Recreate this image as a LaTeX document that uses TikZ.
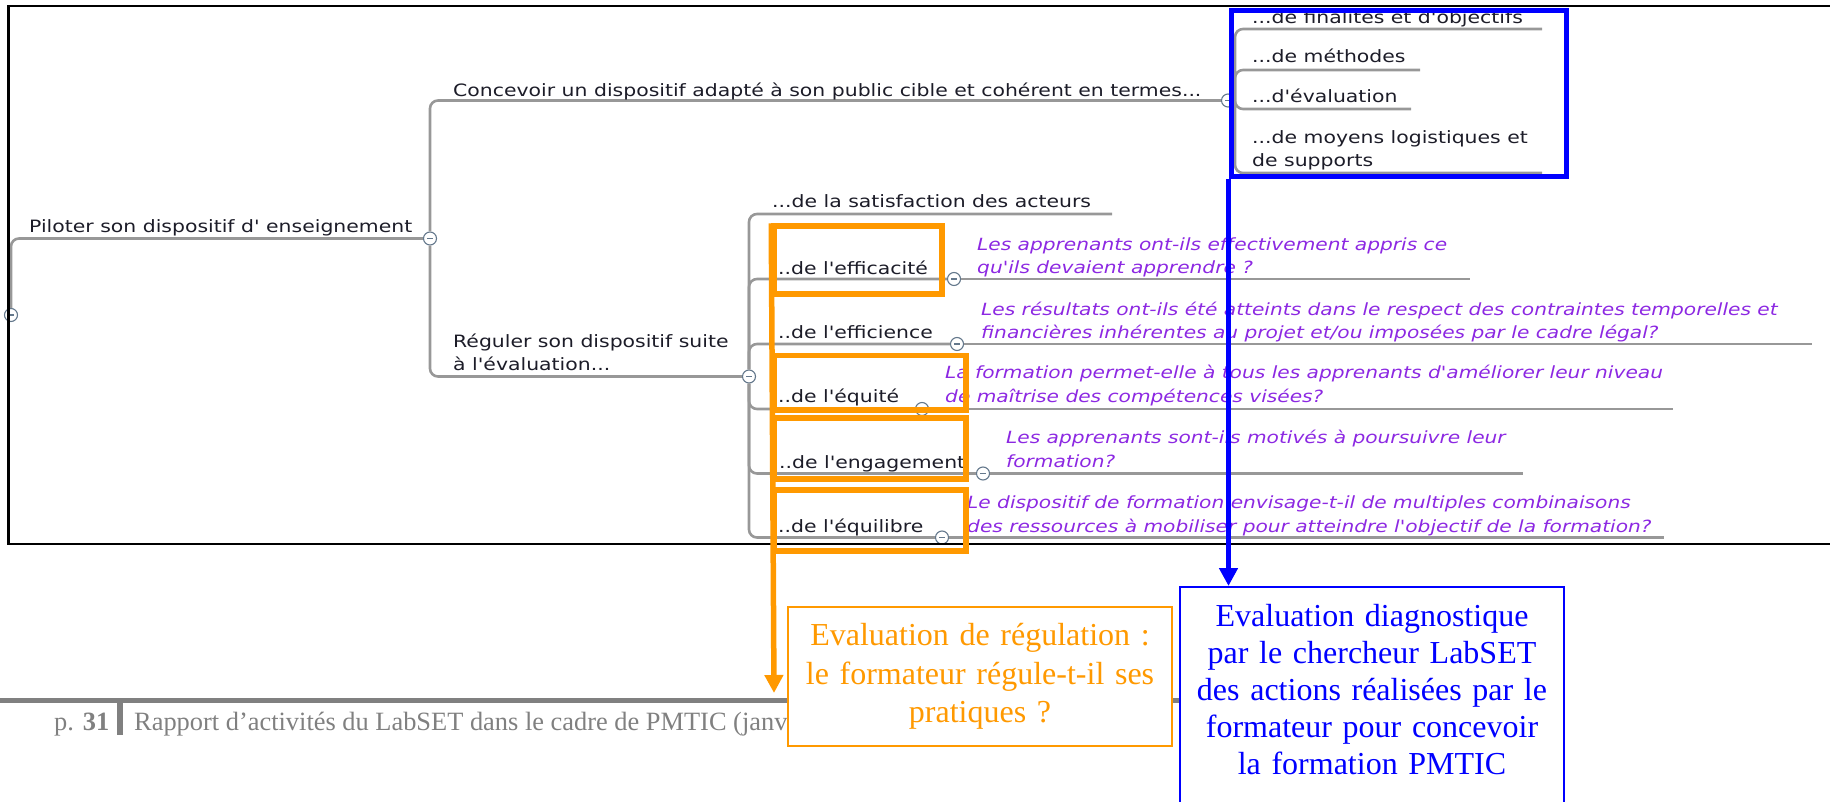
\documentclass[tikz,border=0pt]{standalone}
\usepackage{fontspec}
\setmainfont{Liberation Serif}
\newfontfamily\mapfont{DejaVu Sans}[FakeStretch=1.2, Ligatures=TeXOff]
\usetikzlibrary{arrows,arrows.meta,positioning}

\definecolor{mapgray}{RGB}{152,152,152}
\definecolor{mapink}{RGB}{28,28,40}
\definecolor{togglegray}{RGB}{100,120,140}
\definecolor{askviolet}{RGB}{140,40,226}
\definecolor{hlorange}{RGB}{255,153,0}
\definecolor{footgray}{RGB}{128,128,128}

\tikzset{
    %Define standard arrow tip
    >={Triangle[width=18pt,length=18pt]},
    topic/.style={
      anchor=base west,
      inner sep=0pt,
      text=mapink,
      align=left,
      font=\mapfont\fontsize{17}{23.5}\selectfont},
    ask/.style={
      topic,
      text=askviolet,
      font=\mapfont\itshape\fontsize{16.8}{23.5}\selectfont},
    toggle/.style={
      circle,
      draw=togglegray, fill=white, line width=1.1pt,
      minimum size=13pt, inner sep=0pt,
      path picture={
        \draw[togglegray, line width=1.4pt]
          ([xshift=-3pt]path picture bounding box.center) --
          ([xshift=3pt]path picture bounding box.center);}},
    branch/.style={
      draw=mapgray, line width=2.6pt, rounded corners=8pt},
    elbow/.style={
      branch,
      to path={-| (\tikztotarget)}},
    hilite/.style={
      rectangle,
      draw=hlorange, line width=5.5pt,
      inner sep=0pt},
    note/.style={
      rectangle,
      fill=white, line width=1.6pt,
      text width=370pt, inner xsep=7pt,
      align=center,
      font=\fontsize{32}{37}\selectfont},
    foot/.style={
      anchor=base west,
      inner sep=0pt,
      text=footgray,
      font=\fontsize{26.4}{32}\selectfont},
}

\begin{document}
\begin{tikzpicture}[x=1pt, y=-1pt]
    \clip (0,0) rectangle (1830,802);

    % ends of the leaf branches
    \coordinate (fin-end) at (1542,29);
    \coordinate (meth-end) at (1420,70);
    \coordinate (evalu-end) at (1411,109);
    \coordinate (moy-end) at (1542,173);
    \coordinate (sat-end) at (1112,214);
    \coordinate (effica-end) at (1470,279);
    \coordinate (effici-end) at (1812,344);
    \coordinate (equite-end) at (1673,409);
    \coordinate (engag-end) at (1523,473.5);
    \coordinate (equil-end) at (1664,537.5);

    % mind map
    \node (c0) [toggle] at (11,315) {};
    \node (c1) [toggle] at (430,238.5) {}
          edge [elbow] (c0);
    \node (c2) [toggle] at (1228,100.5) {}
          edge [elbow] (c1);
    \node (c3) [toggle] at (749,376.5) {}
          edge [elbow] (c1);
    \node (c4) [toggle] at (954,279) {}
          edge [elbow] (c3)
          edge [branch] (effica-end);
    \node (c5) [toggle] at (957,344) {}
          edge [elbow] (c3)
          edge [branch] (effici-end);
    \node (c6) [toggle] at (922,409) {}
          edge [elbow] (c3)
          edge [branch] (equite-end);
    \node (c7) [toggle] at (983,473.5) {}
          edge [elbow] (c3)
          edge [branch] (engag-end);
    \node (c8) [toggle] at (942,537.5) {}
          edge [elbow] (c3)
          edge [branch] (equil-end);
    \draw [branch] (c2.east) |- (fin-end);
    \draw [branch] (c2.east) |- (meth-end);
    \draw [branch] (c2.east) |- (evalu-end);
    \draw [branch] (c2.east) |- (moy-end);
    \draw [branch] (c3) |- (sat-end);

    \node (pil) [topic] at (29,233) {Piloter son dispositif d' enseignement};
    \node (conc) [topic] at (453,97)
          {Concevoir un dispositif adapté à son public cible et cohérent en termes...};
    \node (regu) [topic] at (453,370.5) {Réguler son dispositif suite\\à l'évaluation...};
    \node (fin) [topic] at (1252,24) {...de finalités et d'objectifs};
    \node (meth) [topic] at (1252,63) {...de méthodes};
    \node (evalu) [topic] at (1252,103) {...d'évaluation};
    \node (moy) [topic] at (1252,167) {...de moyens logistiques et\\de supports};
    \node (sat) [topic] at (772,208) {...de la satisfaction des acteurs};
    \node (effica) [topic] at (778,274) {..de l'efficacité};
    \node (effici) [topic] at (778,338) {..de l'efficience};
    \node (equite) [topic] at (778,402) {..de l'équité};
    \node (engag) [topic] at (779,468) {..de l'engagement};
    \node (equil) [topic] at (778,532) {..de l'équilibre};

    \node (qeffica) [ask] at (977,273.5)
          {Les apprenants ont-ils effectivement appris ce\\qu'ils devaient apprendre ?};
    \node (qeffici) [ask] at (981,338.5)
          {Les résultats ont-ils été atteints dans le respect des contraintes temporelles et\\financières inhérentes au projet et/ou imposées par le cadre légal?};
    \node (qequite) [ask] at (945,402)
          {La formation permet-elle à tous les apprenants d'améliorer leur niveau\\de maîtrise des compétences visées?};
    \node (qengag) [ask] at (1006,467)
          {Les apprenants sont-ils motivés à poursuivre leur\\formation?};
    \node (qequil) [ask] at (967,532)
          {Le dispositif de formation envisage-t-il de multiples combinaisons\\des ressources à mobiliser pour atteindre l'objectif de la formation?};

    % screenshot frame
    \draw [line width=2.6pt] (8.5,6) rectangle (1850,544);

    % highlights
    \node (hlconc) [hilite, draw=blue, line width=5pt,
          minimum width=335pt, minimum height=166.5pt] at (1398.5,93.75) {};
    \node (hleffica) [hilite, minimum width=168pt, minimum height=68pt] at (858,260) {};
    \node (hlequite) [hilite, minimum width=192pt, minimum height=54.5pt] at (870,382.75) {};
    \node (hlengag) [hilite, minimum width=192pt, minimum height=61pt] at (870,448.5) {};
    \node (hlequil) [hilite, minimum width=192pt, minimum height=61pt] at (870,520.5) {};

    % page footer
    \draw [footgray, line width=5pt] (0,700) -- (1180,700);
    \fill [footgray] (117,703) rectangle (123,735);
    \node (pagenum) [foot] at (54,730) {p. \textbf{31}};
    \node (runhead) [foot] at (134,730)
          {Rapport d’activités du LabSET dans le cadre de PMTIC (janv};

    % comment boxes
    \coordinate (regtip) at (774,693);
    \node (regul) [note, draw=hlorange, text=hlorange, minimum height=139pt,
          font=\fontsize{32}{38.5}\selectfont] at (980,676.5)
          {Evaluation de régulation :\\le formateur régule-t-il ses\\pratiques ?};
    \node (diag) [note, draw=blue, text=blue, anchor=north,
          inner ysep=17pt, text depth=230pt] at (1372,586)
          {Evaluation diagnostique\\par le chercheur LabSET\\des actions réalisées par le\\formateur pour concevoir\\la formation PMTIC};

    \draw [hlorange, line width=5.5pt, ->] (hleffica.north west) -- (regtip);
    \draw [blue, line width=5pt, ->] (hlconc.south west) -- (hlconc.south west |- diag.north);
\end{tikzpicture}
\end{document}
